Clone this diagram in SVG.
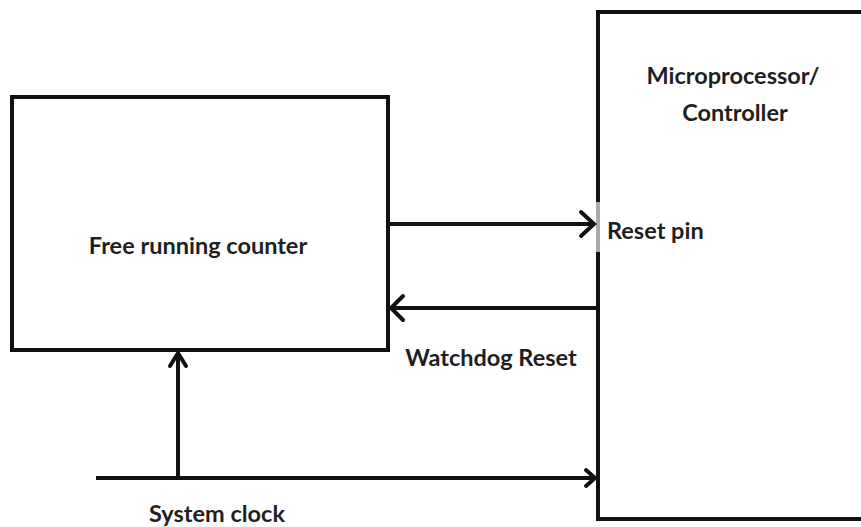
<svg xmlns="http://www.w3.org/2000/svg" width="861" height="527" viewBox="0 0 861 527">
<style>
.box{fill:#fff;stroke:#111;stroke-width:4}
.ln{fill:none;stroke:#111;stroke-width:4}
.hd{fill:none;stroke:#111;stroke-width:4;stroke-linecap:round;stroke-linejoin:miter}
text{font-family:Lato,"Open Sans",sans-serif;fill:#1f1f1f;font-size:23.5px;font-weight:bold}
</style>
<rect width="861" height="527" fill="#fff"/>
<g id="counter">
<rect class="box" x="12" y="97" width="376" height="253"/>
<text x="198" y="254" text-anchor="middle">Free running counter</text>
</g>
<g id="micro">
<rect class="box" x="598" y="12" width="275" height="507"/>
<line x1="598" y1="202" x2="598" y2="252" stroke="#aaa" stroke-width="4"/>
<text x="733" y="84" text-anchor="middle">Microprocessor/</text>
<text x="735" y="121" text-anchor="middle">Controller</text>
<text x="607" y="239">Reset pin</text>
</g>
<g id="connectors">
<line class="ln" x1="388" y1="224" x2="594" y2="224"/>
<polyline class="hd" points="581,212 594,224 581,236"/>
<line class="ln" x1="596" y1="308" x2="391" y2="308"/>
<polyline class="hd" points="403,296 391,308 403,320"/>
<line class="ln" x1="96" y1="478" x2="595" y2="478"/>
<polyline class="hd" points="586,470 595,478 586,486"/>
<line class="ln" x1="178" y1="478" x2="178" y2="353"/>
<polyline class="hd" points="170,366 178,353 186,366"/>
</g>
<text x="491" y="366" text-anchor="middle">Watchdog Reset</text>
<text x="217" y="522" text-anchor="middle">System clock</text>
</svg>
